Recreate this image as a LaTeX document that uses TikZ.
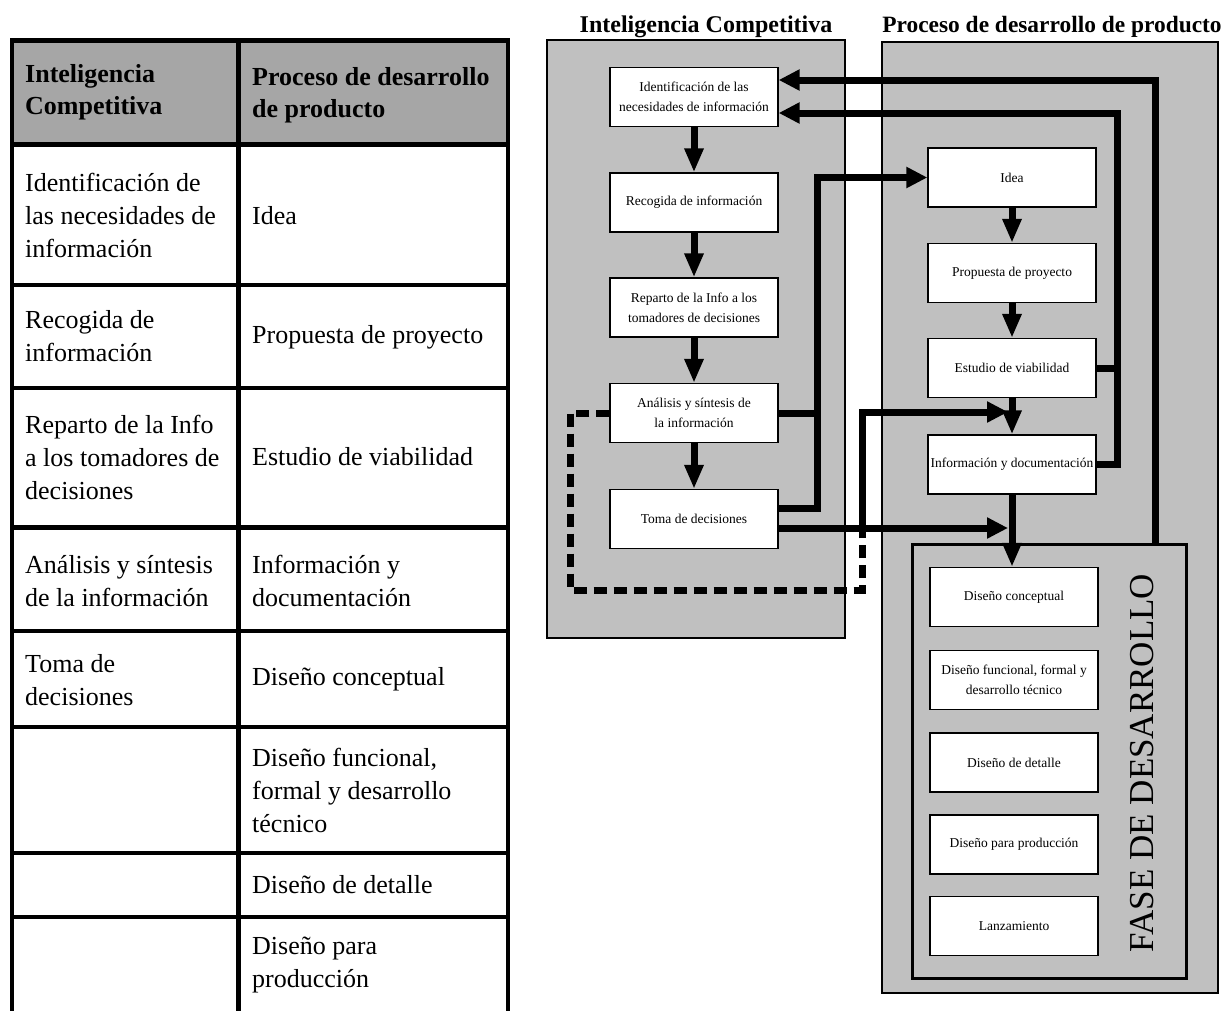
\documentclass[tikz,border=0pt]{standalone}
\usepackage{fontspec}
\setmainfont{Liberation Serif}
\usetikzlibrary{arrows.meta}
\definecolor{hdrgray}{RGB}{166,166,166}
\definecolor{pangray}{RGB}{192,192,192}
\begin{document}
\begin{tikzpicture}[x=1pt,y=-1pt,
  cell/.style={anchor=west, align=left, inner sep=0pt, font=\fontsize{26}{33}\selectfont},
  hcell/.style={anchor=west, align=left, inner sep=0pt, font=\fontsize{26}{32}\selectfont\bfseries},
  panel/.style={draw, fill=pangray, line width=2.5pt, inner sep=0pt},
  box/.style={draw, fill=white, line width=1.3pt, minimum width=168pt, minimum height=59pt, inner sep=0pt, align=center, font=\fontsize{13.5}{20}\selectfont},
  conn/.style={line width=7pt},
  varr/.style={conn, -{Triangle[length=24pt,width=18pt]}},
  harr/.style={conn, -{Triangle[length=21pt,width=20pt]}},
  dashconn/.style={conn, dash pattern=on 13pt off 7pt},
  title/.style={anchor=base, inner sep=0pt}
]
\useasboundingbox (0,0) rectangle (1224,1010);

% ---------------- table ----------------
\fill[hdrgray] (12,40) rectangle (508,145);
\draw[line width=4.5pt, line join=miter] (12,1012) -- (12,40.5) -- (508,40.5) -- (508,1012);
\draw[line width=4.5pt] (238.5,40.5) -- (238.5,1012);
\draw[line width=5.5pt] (12,144.5) -- (508,144.5);
\draw[line width=3.5pt] (12,285) -- (508,285);
\draw[line width=3.5pt] (12,388) -- (508,388);
\draw[line width=5pt] (12,527) -- (508,527);
\draw[line width=3.5pt] (12,631) -- (508,631);
\draw[line width=3.5pt] (12,727) -- (508,727);
\draw[line width=3.5pt] (12,853) -- (508,853);
\draw[line width=3.5pt] (12,917) -- (508,917);

\node[hcell] (h1) at (25,92) {Inteligencia\\Competitiva};
\node[hcell] (h2) at (252,95) {Proceso de desarrollo\\de producto};

\node[cell] (a1) at (25,215) {Identificación de\\las necesidades de\\información};
\node[cell] (a2) at (25,336) {Recogida de\\información};
\node[cell] (a3) at (25,457) {Reparto de la Info\\a los tomadores de\\decisiones};
\node[cell] (a4) at (25,581) {Análisis y síntesis\\de la información};
\node[cell] (a5) at (25,680) {Toma de\\decisiones};

\node[cell] (b1) at (252,216) {Idea};
\node[cell] (b2) at (252,337) {Propuesta de proyecto};
\node[cell] (b3) at (252,457) {Estudio de viabilidad};
\node[cell] (b4) at (252,581) {Información y\\documentación};
\node[cell] (b5) at (252,679) {Diseño conceptual};
\node[cell] (b6) at (252,790) {Diseño funcional,\\formal y desarrollo\\técnico};
\node[cell] (b7) at (252,885) {Diseño de detalle};
\node[cell] (b8) at (252,965) {Diseño para\\producción};

% ---------------- diagram panels ----------------
\node[panel, minimum width=298pt, minimum height=598pt] (icp) at (696,339) {};
\node[panel, minimum width=336pt, minimum height=951pt] (pdp) at (1050,517.5) {};
\node[panel, line width=3pt, minimum width=274pt, minimum height=434pt] (fase) at (1049,761) {};

\node[title, font=\fontsize{24}{24}\selectfont\bfseries] (t1) at (706,32) {Inteligencia Competitiva};
\node[title, font=\fontsize{23.4}{24}\selectfont\bfseries] (t2) at (1052,32) {Proceso de desarrollo de producto};

\node[rotate=90, inner sep=0pt, font=\fontsize{35}{35}\selectfont] (fl) at (1142,763) {FASE DE DESARROLLO};

% left boxes
\node[box] (n1) at (694,97) {Identificación de las\\necesidades de información};
\node[box] (n2) at (694,202.5) {Recogida de información};
\node[box] (n3) at (694,307.5) {Reparto de la Info a los\\tomadores de decisiones};
\node[box] (n4) at (694,413) {Análisis y síntesis de\\la información};
\node[box] (n5) at (694,519) {Toma de decisiones};

% right boxes
\node[box] (p1) at (1012,177.5) {Idea};
\node[box] (p2) at (1012,273) {Propuesta de proyecto};
\node[box] (p3) at (1012,368) {Estudio de viabilidad};
\node[box] (p4) at (1012,464.5) {Información y documentación};

\node[box] (d1) at (1014,597) {Diseño conceptual};
\node[box] (d2) at (1014,680) {Diseño funcional, formal y\\desarrollo técnico};
\node[box] (d3) at (1014,762.5) {Diseño de detalle};
\node[box] (d4) at (1014,844.5) {Diseño para producción};
\node[box] (d5) at (1014,926) {Lanzamiento};

% vertical flow arrows
\draw[varr] (n1.south) -- (n2.north);
\draw[varr] (n2.south) -- (n3.north);
\draw[varr] (n3.south) -- (n4.north);
\draw[varr] (n4.south) -- (n5.north);
\draw[varr] (p1.south) -- (p2.north);
\draw[varr] (p2.south) -- (p3.north);
\draw[varr] (p3.south) -- (p4.north);
\draw[varr] (p4.south) -- (p4.south |- d1.north);

% feedback loops to Identificación
\coordinate (ya) at (1155,80);
\coordinate (yb) at (1117,113);
\draw[harr] (fase.north -| ya) -- (ya) -- (n1.east |- ya);
\draw[harr] (p4.east) -- (p4.east -| yb) -- (yb) -- (n1.east |- yb);
\draw[conn] (p3.east) -- (p3.east -| yb);

% from Análisis / Toma to Idea
\coordinate (xl) at (817,177.5);
\draw[conn] (n4.east) -- (n4.east -| xl);
\draw[harr] ([yshift=11pt]n5.east) -- ([yshift=11pt]n5.east -| xl) -- (xl) -- (p1.west);

% Toma to the Diseño conceptual entry
\coordinate (tl) at (1008,528);
\draw[harr] ([yshift=-9pt]n5.east) -- (tl);

% dashed loop from Análisis to the Información entry
\coordinate (dA) at (570,413);
\coordinate (dB) at (570,590);
\coordinate (dC) at (862,590);
\coordinate (dD) at (862,528);
\coordinate (dE) at (862,412);
\coordinate (dF) at (1008,412);
\draw[dashconn] (n4.west) -- (dA) -- (dB) -- (dC) -- (dD);
\draw[harr] (dD) -- (dE) -- (dF);
\end{tikzpicture}
\end{document}
